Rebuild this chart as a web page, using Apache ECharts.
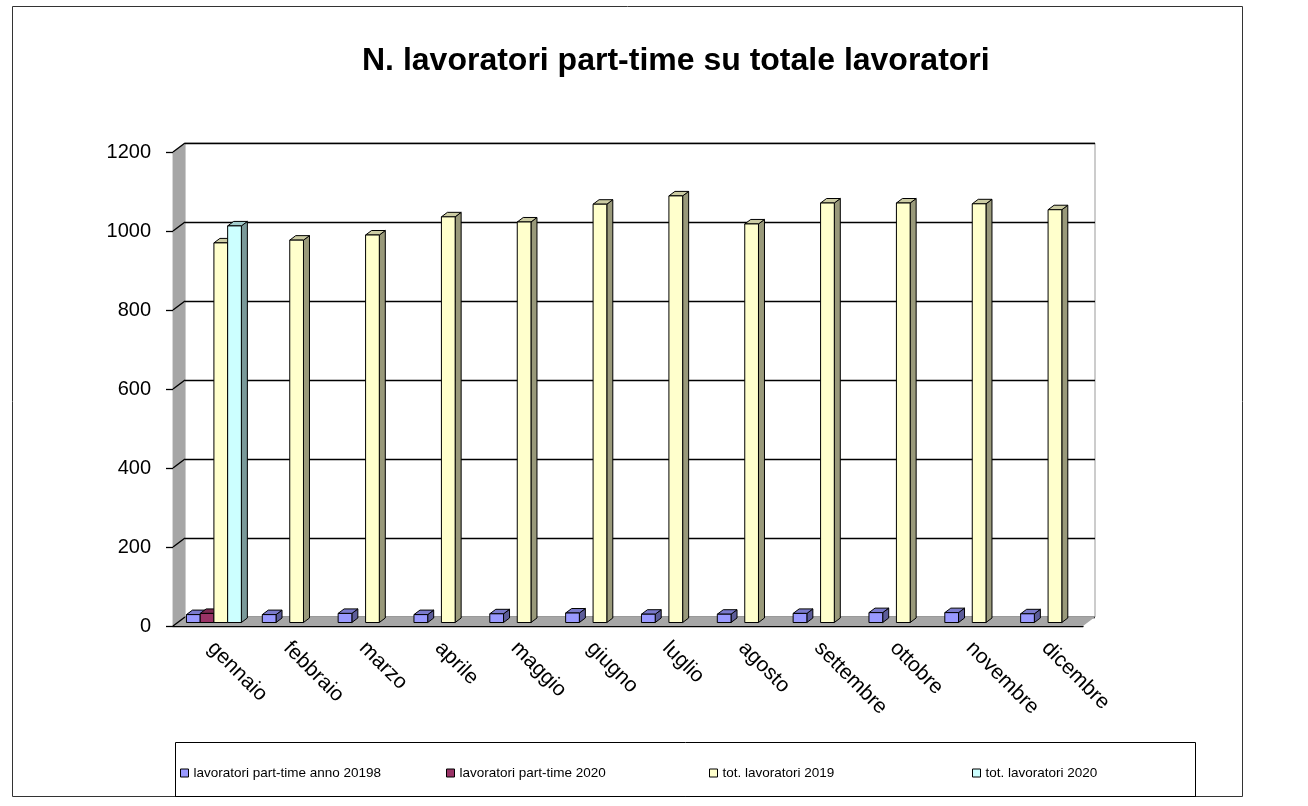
<!DOCTYPE html>
<html>
<head>
<meta charset="UTF-8">
<title>N. lavoratori part-time su totale lavoratori</title>
<script src="https://cdn.jsdelivr.net/npm/echarts@6/dist/echarts.min.js"></script>
<style>
  html, body { margin: 0; padding: 0; background: #fff; }
  #main { width: 1308px; height: 806px; }
</style>
</head>
<body>
<div id="main"></div>
<script type="text/javascript">
    // dati
    var mesi = ['gennaio', 'febbraio', 'marzo', 'aprile', 'maggio', 'giugno',
                'luglio', 'agosto', 'settembre', 'ottobre', 'novembre', 'dicembre'];
    var partTime2019 = [20, 20, 23, 20, 22, 24, 21, 21, 23, 25, 25, 22];
    var partTime2020 = [23, null, null, null, null, null, null, null, null, null, null, null];
    var tot2019 = [961, 968, 981, 1027, 1014, 1059, 1080, 1009, 1062, 1062, 1060, 1045];
    var tot2020 = [1004, null, null, null, null, null, null, null, null, null, null, null];

    var nomi = ['lavoratori part-time anno 20198', 'lavoratori part-time 2020',
                'tot. lavoratori 2019', 'tot. lavoratori 2020'];
    var valori = [partTime2019, partTime2020, tot2019, tot2020];
    // front, top, side
    var colori = [
        ['#9999FF', '#7A7ACC', '#5C5C99'],
        ['#993366', '#7A2952', '#5C1F3D'],
        ['#FFFFCC', '#CCCCA3', '#99997A'],
        ['#CCFFFF', '#A3CCCC', '#7A9999']
    ];

    var FONT = 'Liberation Sans, Arial, sans-serif';
    var myChart = echarts.init(document.getElementById('main'));

    function toData(arr) {
        var out = [];
        for (var i = 0; i < arr.length; i++) {
            if (arr[i] != null) out.push([i, arr[i]]);
        }
        return out;
    }

    function barRenderer(k) {
        return function (params, api) {
            var idx = api.value(0), v = api.value(1);
            var base = api.coord([idx, 0]);
            var top = api.coord([idx, v]);
            var band = api.size([1, 0])[0];
            var bw = band * 0.181;
            var x0 = base[0] - 2 * bw + k * bw + 3;
            var x1 = x0 + bw;
            var yb = base[1] - 3.5, yt = top[1] - 3.5;
            var dx = 6, dy = -4.5;
            var st = { stroke: '#000', lineWidth: 1, lineJoin: 'round' };
            return {
                type: 'group',
                children: [
                    { type: 'polygon', shape: { points: [[x1, yb], [x1 + dx, yb + dy], [x1 + dx, yt + dy], [x1, yt]] },
                      style: Object.assign({ fill: colori[k][2] }, st) },
                    { type: 'polygon', shape: { points: [[x0, yt], [x1, yt], [x1 + dx, yt + dy], [x0 + dx, yt + dy]] },
                      style: Object.assign({ fill: colori[k][1] }, st) },
                    { type: 'rect', shape: { x: x0, y: yt, width: bw, height: yb - yt },
                      style: Object.assign({ fill: colori[k][0] }, st) }
                ]
            };
        };
    }

    // pareti e pavimento 3D
    function wallRenderer(params, api) {
        var cs = params.coordSys;
        var dx = 12, dy = -9;
        var left = cs.x, right = cs.x + cs.width;
        var y0 = api.coord([0, 0])[1];
        var yTop = api.coord([0, 1200])[1];
        var children = [
            { type: 'polygon', shape: { points: [[left, yTop], [left + dx, yTop + dy], [left + dx, y0 + dy], [left, y0]] },
              style: { fill: '#A6A6A6', stroke: null } },
            { type: 'polygon', shape: { points: [[left, y0], [left + dx, y0 + dy], [right + dx, y0 + dy], [right, y0]] },
              style: { fill: '#A6A6A6', stroke: null } }
        ];
        for (var v = 0; v <= 1200; v += 200) {
            var y = api.coord([0, v])[1];
            children.push({ type: 'line', shape: { x1: left, y1: y, x2: left + dx, y2: y + dy },
                            style: { stroke: '#000', lineWidth: 1.3 } });
        }
        return { type: 'group', children: children };
    }

    var series = [{
        type: 'custom',
        xAxisIndex: 0, yAxisIndex: 0,
        silent: true,
        renderItem: wallRenderer,
        data: [[0, 0]],
        z: 1
    }];
    for (var k = 0; k < 4; k++) {
        series.push({
            name: nomi[k],
            type: 'custom',
            xAxisIndex: 0, yAxisIndex: 0,
            renderItem: barRenderer(k),
            itemStyle: { color: colori[k][0], borderColor: '#000', borderWidth: 1 },
            encode: { x: 0, y: 1 },
            data: toData(valori[k]),
            z: 2
        });
    }

    var legendLeft = [180, 446, 709, 972];
    var legends = [];
    for (var j = 0; j < 4; j++) {
        legends.push({
            data: [nomi[j]],
            left: legendLeft[j],
            top: 766,
            padding: 0,
            icon: 'rect',
            itemWidth: 8,
            itemHeight: 8,
            itemStyle: { borderColor: '#000', borderWidth: 1 },
            selectedMode: false,
            textStyle: { fontFamily: FONT, fontSize: 13.5, color: '#000' }
        });
    }

    var option = {
        animation: false,
        backgroundColor: '#fff',
        title: {
            text: 'N. lavoratori part-time su totale lavoratori',
            left: 357,
            top: 40,
            textStyle: { fontFamily: FONT, fontSize: 32, fontWeight: 'bold', color: '#000' }
        },
        legend: legends,
        grid: [
            { left: 173, right: 225, top: 152, bottom: 180 },
            { left: 185, right: 213, top: 143, bottom: 189, show: true,
              borderColor: '#999', borderWidth: 1, backgroundColor: 'transparent' }
        ],
        xAxis: [
            {
                gridIndex: 0,
                type: 'category',
                data: mesi,
                axisLine: { lineStyle: { color: '#000', width: 1.3 } },
                axisTick: { length: 8, lineStyle: { color: '#000', width: 1.3 } },
                axisLabel: { rotate: -45, margin: 19, fontFamily: FONT, fontSize: 21, color: '#000' }
            },
            {
                gridIndex: 1,
                type: 'category',
                data: mesi,
                show: false
            }
        ],
        yAxis: [
            {
                gridIndex: 0,
                type: 'value',
                min: 0, max: 1200, interval: 200,
                splitLine: { show: false },
                axisLine: { show: true, lineStyle: { color: '#000', width: 1.3 } },
                axisTick: { show: true, length: 7, lineStyle: { color: '#000', width: 1.3 } },
                axisLabel: { margin: 22, fontFamily: FONT, fontSize: 20, color: '#000',
                             formatter: function (v) { return String(v); } }
            },
            {
                gridIndex: 1,
                type: 'value',
                min: 0, max: 1200, interval: 200,
                axisLine: { show: false },
                axisTick: { show: false },
                axisLabel: { show: false },
                splitLine: { show: true, lineStyle: { color: '#000', width: 1.3 } }
            }
        ],
        graphic: [
            { type: 'rect', z: -10, shape: { x: 12.5, y: 6.5, width: 1230, height: 790 },
              style: { fill: null, stroke: '#333', lineWidth: 1 } },
            { type: 'rect', z: -10, shape: { x: 175.5, y: 742.5, width: 1020, height: 54 },
              style: { fill: null, stroke: '#000', lineWidth: 1 } }
        ],
        series: series
    };

    myChart.setOption(option);
</script>
</body>
</html>
